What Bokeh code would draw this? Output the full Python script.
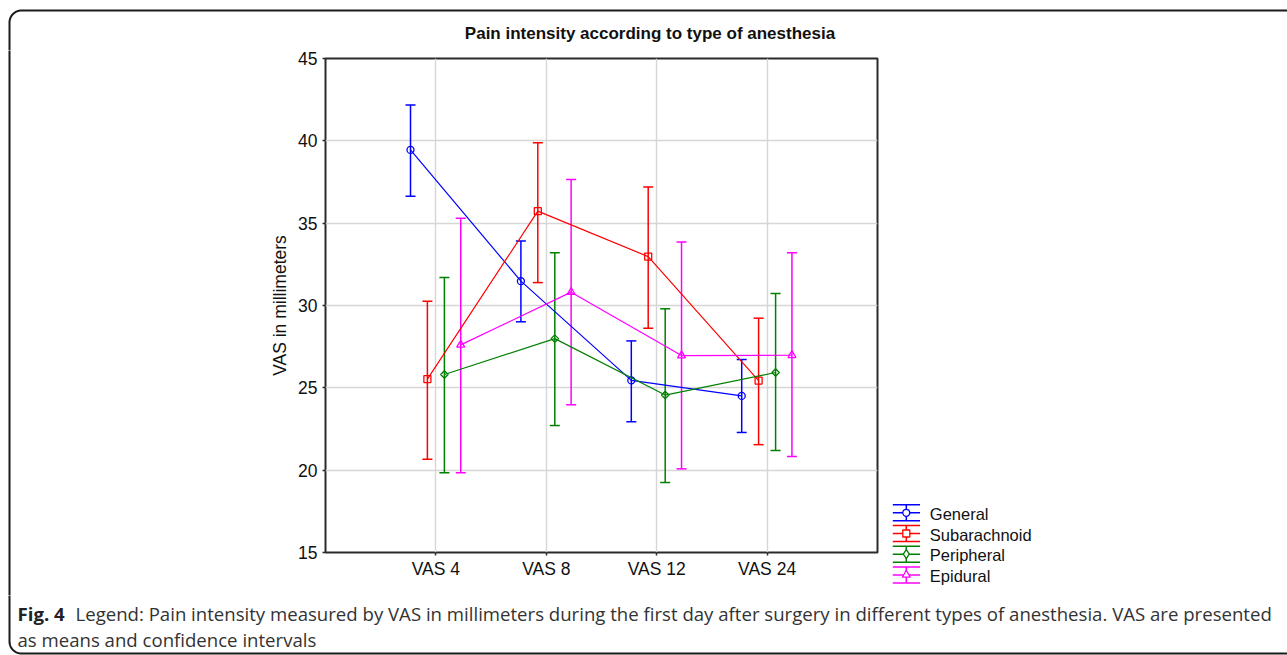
import math
from bokeh.plotting import figure
from bokeh.layouts import column, row
from bokeh.models import FixedTicker, Range1d, ColumnDataSource, Whisker, TeeHead
from bokeh.core.properties import value
from bokeh.embed import file_html
from bokeh.resources import INLINE

# ---------------- data ----------------
categories = ["VAS 4", "VAS 8", "VAS 12", "VAS 24"]
series_names = ["General", "Subarachnoid", "Peripheral", "Epidural"]

general_mean = [39.45, 31.48, 25.45, 24.51]
general_upper = [42.18, 33.91, 27.85, 26.72]
general_lower = [36.64, 29.01, 22.94, 22.29]

subarachnoid_mean = [25.53, 35.73, 32.97, 25.44]
subarachnoid_upper = [30.26, 39.89, 37.20, 29.23]
subarachnoid_lower = [20.66, 31.39, 28.62, 21.55]

peripheral_mean = [25.81, 27.99, 24.56, 25.93]
peripheral_upper = [31.70, 33.21, 29.80, 30.73]
peripheral_lower = [19.84, 22.71, 19.25, 21.19]

epidural_mean = [27.61, 30.81, 26.96, 26.98]
epidural_upper = [35.30, 37.65, 33.85, 33.20]
epidural_lower = [19.84, 23.97, 20.08, 20.83]

y_ticks = [15, 20, 25, 30, 35, 40, 45]

title_text = "Pain intensity according to type of anesthesia"
y_label = "VAS in millimeters"
caption_bold = "Fig. 4"
caption_line1 = ("Legend: Pain intensity measured by VAS in millimeters during the first day "
                 "after surgery in different types of anesthesia. VAS are presented")
caption_line2 = "as means and confidence intervals"

# ---------------- styles / layout ----------------
colors = ["#0000ff", "#ff0000", "#008000", "#ff00ff"]
markers = ["circle", "square", "square", "triangle"]
marker_angles = [0.0, 0.0, math.pi / 4, 0.0]
marker_sizes = [7, 7, 5.3, 8]
legend_markers = ["circle", "square", "diamond", "triangle"]
legend_sizes = [7, 7, 9, 8]
offsets = [-0.23, -0.077, 0.077, 0.225]
FONT = "Liberation Sans"
CAP_FONT = "Open Sans"
CAP_SIZE = "18.6px"
BORDER = "#1a1a1a"

TOTAL_W, TOP_H, MID_H, BOT_H = 1287, 50, 545, 60
LEFT_W, MAIN_W = 16, 864
SIDE_W = TOTAL_W - LEFT_W - MAIN_W
MID_Y0, MID_Y1 = TOP_H, TOP_H + MID_H


def blank(width, height, x0, x1, y_top, y_bottom):
    f = figure(width=width, height=height, x_range=Range1d(x0, x1),
               y_range=Range1d(y_bottom, y_top), output_backend="svg",
               toolbar_location=None, x_axis_location=None, y_axis_location=None,
               min_border=0, title=None, frame_align=False)
    f.grid.visible = False
    f.outline_line_color = None
    f.background_fill_color = "white"
    f.border_fill_color = "white"
    return f


def arc(cx, cy, r, a0, a1, n=16):
    ts = [a0 + (a1 - a0) * i / n for i in range(n + 1)]
    return [cx + r * math.cos(t) for t in ts], [cy + r * math.sin(t) for t in ts]


# ---------------- top strip: border + title ----------------
top = blank(TOTAL_W, TOP_H, 0, TOTAL_W, 0, TOP_H)
ax_, ay_ = arc(21, 22, 12, math.pi, 1.5 * math.pi)
top.line([9] + ax_ + [TOTAL_W + 5], [TOP_H + 2] + ay_ + [10], line_color=BORDER, line_width=2,
         line_join="round")
top.text(x=[649.5], y=[33], text=[title_text], text_font=value(FONT),
         text_font_size="17px", text_font_style="bold", text_color="#111111",
         text_align="center", text_baseline="alphabetic")

# ---------------- left strip: border ----------------
left = blank(LEFT_W, MID_H, 0, LEFT_W, MID_Y0, MID_Y1)
left.line([9, 9], [MID_Y0 - 2, MID_Y1 + 2], line_color=BORDER, line_width=2)

# ---------------- main chart ----------------
p = figure(width=MAIN_W, height=MID_H, x_range=Range1d(0, 5), y_range=Range1d(15, 45),
           output_backend="svg", toolbar_location=None, title=None, frame_align=False,
           min_border_left=325 - LEFT_W, min_border_right=LEFT_W + MAIN_W - 877,
           min_border_top=58 - MID_Y0, min_border_bottom=MID_Y1 - 552)
p.background_fill_color = "white"
p.border_fill_color = "white"
p.outline_line_color = "#2b2b2b"
p.outline_line_width = 2
p.outline_line_alpha = 1

xt = FixedTicker(ticks=[1, 2, 3, 4])
yt = FixedTicker(ticks=y_ticks)
p.xaxis.ticker = xt
p.yaxis.ticker = yt
p.xgrid.ticker = xt
p.ygrid.ticker = yt
p.xaxis.major_label_overrides = {i + 1: c for i, c in enumerate(categories)}
for ax in (p.xaxis, p.yaxis):
    ax.axis_line_color = None
    ax.major_tick_line_color = "#2b2b2b"
    ax.major_tick_line_width = 1.5
    ax.major_tick_in = 0
    ax.major_tick_out = 3
    ax.minor_tick_line_color = None
    ax.major_label_text_font = FONT
    ax.major_label_text_font_size = "17.5px"
    ax.major_label_text_color = "#111111"
p.xaxis.major_label_standoff = 3
p.yaxis.major_label_standoff = 5
p.yaxis.axis_label = y_label
p.yaxis.axis_label_text_font = FONT
p.yaxis.axis_label_text_font_size = "17.5px"
p.yaxis.axis_label_text_font_style = "normal"
p.yaxis.axis_label_text_color = "#111111"
p.yaxis.axis_label_standoff = 5

for g in (p.xgrid, p.ygrid):
    g.grid_line_color = "#d6d6d6"
    g.grid_line_width = 1.4

means = [general_mean, subarachnoid_mean, peripheral_mean, epidural_mean]
uppers = [general_upper, subarachnoid_upper, peripheral_upper, epidural_upper]
lowers = [general_lower, subarachnoid_lower, peripheral_lower, epidural_lower]

for k in range(4):
    xs = [i + 1 + offsets[k] for i in range(len(categories))]
    src = ColumnDataSource(dict(x=xs, mean=means[k], upper=uppers[k], lower=lowers[k]))
    c = colors[k]
    w = Whisker(source=src, base="x", upper="upper", lower="lower", dimension="height",
                line_color=c, line_width=1.5,
                upper_head=TeeHead(size=10, line_color=c, line_width=1.5),
                lower_head=TeeHead(size=10, line_color=c, line_width=1.5))
    p.add_layout(w)
    p.line("x", "mean", source=src, line_color=c, line_width=1.2)
    p.scatter("x", "mean", source=src, marker=markers[k], size=marker_sizes[k],
              angle=marker_angles[k], line_color=c, line_width=1.3, fill_color=None)

# ---------------- right strip: legend ----------------
side = blank(SIDE_W, MID_H, LEFT_W + MAIN_W, TOTAL_W, MID_Y0, MID_Y1)
lx0, lx1, lxc, ltx = 892.3, 919.5, 905.8, 929.3
for k, name in enumerate(series_names):
    cy = 512.3 + 20.7 * k
    c = colors[k]
    side.segment(x0=[lx0] * 3 + [lxc], x1=[lx1] * 3 + [lxc],
                 y0=[cy - 8, cy, cy + 8, cy - 8], y1=[cy - 8, cy, cy + 8, cy + 8],
                 line_color=c, line_width=1.5)
    side.scatter(x=[lxc], y=[cy], marker=legend_markers[k], size=legend_sizes[k],
                 line_color=c, line_width=1.3, fill_color="white")
    side.text(x=[ltx], y=[cy + 1], text=[name], text_font=value(FONT),
              text_font_size="16.5px", text_color="#111111",
              text_align="left", text_baseline="middle")

# ---------------- bottom strip: caption + border ----------------
bot = blank(TOTAL_W, BOT_H, 0, TOTAL_W, MID_Y1, MID_Y1 + BOT_H)
bx_, by_ = arc(21, 641, 12, math.pi, 0.5 * math.pi)
bot.line([9] + bx_ + [TOTAL_W + 5], [MID_Y1 - 2] + by_ + [653], line_color=BORDER,
         line_width=2, line_join="round")
bot.text(x=[17], y=[613], text=[caption_bold], text_font=value(CAP_FONT),
         text_font_size=CAP_SIZE, text_font_style="bold", text_color="#222222",
         text_align="left", text_baseline="alphabetic")
bot.text(x=[75, 17], y=[613, 639], text=[caption_line1, caption_line2],
         text_font=value(CAP_FONT), text_font_size=CAP_SIZE, text_color="#333333",
         text_align="left", text_baseline="alphabetic")

layout = column(top, row(left, p, side), bot)
open("out.html", "w").write(file_html(layout, INLINE))
